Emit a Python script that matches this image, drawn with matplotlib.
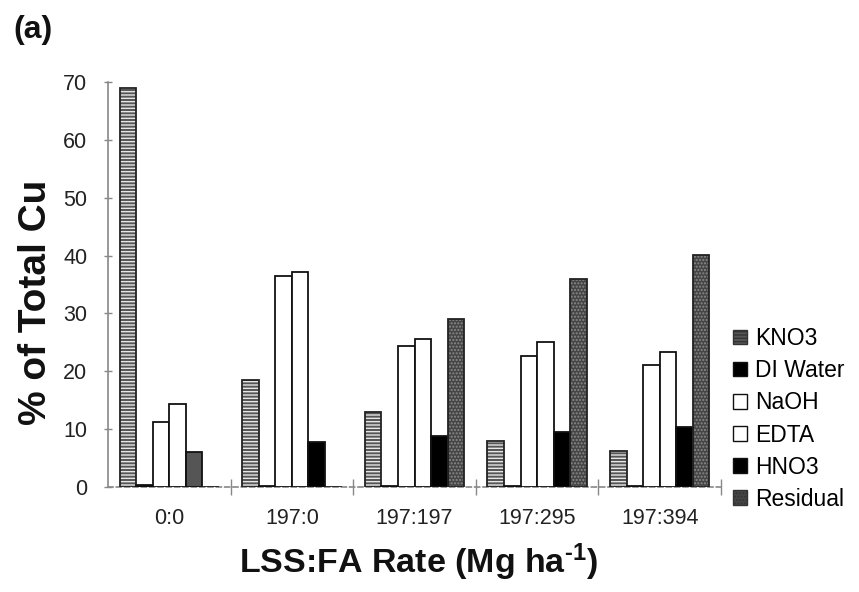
import matplotlib
matplotlib.use("Agg")
import matplotlib.pyplot as plt
import numpy as np
from matplotlib.patches import Patch

# ---- data ----
categories = ['0:0', '197:0', '197:197', '197:295', '197:394']
series_names = ['KNO3', 'DI Water', 'NaOH', 'EDTA', 'HNO3', 'Residual']
kno3 = [68.9, 18.5, 13.0, 7.9, 6.3]
di_water = [0.3, 0.2, 0.2, 0.2, 0.2]
naoh = [11.3, 36.5, 24.4, 22.6, 21.1]
edta = [14.3, 37.2, 25.5, 25.1, 23.4]
hno3 = [6.0, 7.8, 8.8, 9.5, 10.4]
residual = [0.0, 0.0, 29.0, 35.9, 40.1]
yticks = [0, 10, 20, 30, 40, 50, 60, 70]

plt.rcParams['font.family'] = ['Liberation Sans', 'DejaVu Sans']
plt.rcParams['mathtext.fontset'] = 'custom'
plt.rcParams['mathtext.rm'] = 'Liberation Sans:bold'
plt.rcParams['mathtext.it'] = 'Liberation Sans:bold'
plt.rcParams['mathtext.bf'] = 'Liberation Sans:bold'
plt.rcParams['hatch.linewidth'] = 1.0

W, H = 859, 592
fig = plt.figure(figsize=(W / 100, H / 100), dpi=100)
L, R, B, T = 108, 721, 487, 82
ax = fig.add_axes([L / W, 1 - B / H, (R - L) / W, (B - T) / H])

x = np.arange(len(categories))
w = 0.135
series = [kno3, di_water, naoh, edta, hno3, residual]

styles = [
    dict(facecolor='#555555', hatch='-----', hatch_edge='#e6e6e6'),
    dict(facecolor='black', hatch=None, hatch_edge=None),
    dict(facecolor='white', hatch=None, hatch_edge=None),
    dict(facecolor='white', hatch=None, hatch_edge=None),
    dict(facecolor='black', hatch=None, hatch_edge=None),
    dict(facecolor='#454545', hatch='.....', hatch_edge='#8a8a8a'),
]

for i, (vals, st) in enumerate(zip(series, styles)):
    pos = x + (i - 2.5) * w
    fcs = [st['facecolor']] * len(vals)
    if series_names[i] == 'HNO3':
        fcs[0] = '#555555'
    if st['hatch']:
        ax.bar(pos, vals, w, color=fcs, edgecolor=st['hatch_edge'],
               hatch=st['hatch'], linewidth=0, zorder=2)
        ax.bar(pos, vals, w, fill=False, edgecolor='#222222',
               linewidth=1.3, zorder=3)
    else:
        ax.bar(pos, vals, w, color=fcs, edgecolor='#111111',
               linewidth=1.3, zorder=3)

ax.set_xlim(-0.5, len(categories) - 0.5)
ax.set_ylim(0, 70)
ax.set_yticks(yticks)
ax.set_yticklabels([str(v) for v in yticks], fontsize=15.5, color='#222222')
ax.set_xticks(x)
ax.set_xticklabels(categories, fontsize=15.5, color='#222222')
ax.tick_params(axis='x', which='major', length=0, pad=15)
ax.set_xticks(np.arange(0.5, len(categories), 1.0), minor=True)
ax.tick_params(axis='x', which='minor', direction='inout', length=12,
               width=1, color='#888888')
ax.tick_params(axis='y', direction='inout', length=6, width=1,
               color='#888888', pad=12)

for s in ['top', 'right']:
    ax.spines[s].set_visible(False)
ax.spines['left'].set_color('#888888')
ax.spines['left'].set_linewidth(1.2)
ax.spines['bottom'].set_color('#888888')
ax.spines['bottom'].set_linewidth(1.2)
ax.spines['bottom'].set_linestyle((0, (3, 2)))

fig.text(36 / W, 1 - 302 / H, '% of Total Cu', rotation=90, ha='center',
         va='center', fontsize=28, fontweight='bold', color='#111111')
fig.text(418 / W, 1 - 573 / H, r'LSS:FA Rate (Mg ha$^{\text{-1}}$)',
         ha='center', va='baseline', fontsize=24.5, fontweight='bold',
         color='#111111')
fig.text(13 / W, 1 - 38 / H, '(a)', ha='left', va='baseline',
         fontsize=23, fontweight='bold', color='#111111')

handles = []
for i, st in enumerate(styles):
    if st['hatch']:
        handles.append(Patch(facecolor=st['facecolor'], edgecolor='#333333',
                             hatch=st['hatch'], linewidth=1))
    else:
        handles.append(Patch(facecolor=st['facecolor'], edgecolor='#111111',
                             linewidth=1))
leg = fig.legend(handles, series_names, loc='upper left',
                 bbox_to_anchor=(733 / W, 1 - 327 / H), frameon=False,
                 fontsize=16.5, handlelength=0.6, handleheight=0.6,
                 handletextpad=0.35, labelspacing=0.4, borderpad=0,
                 borderaxespad=0)

fig.savefig('out.png', dpi=100)
